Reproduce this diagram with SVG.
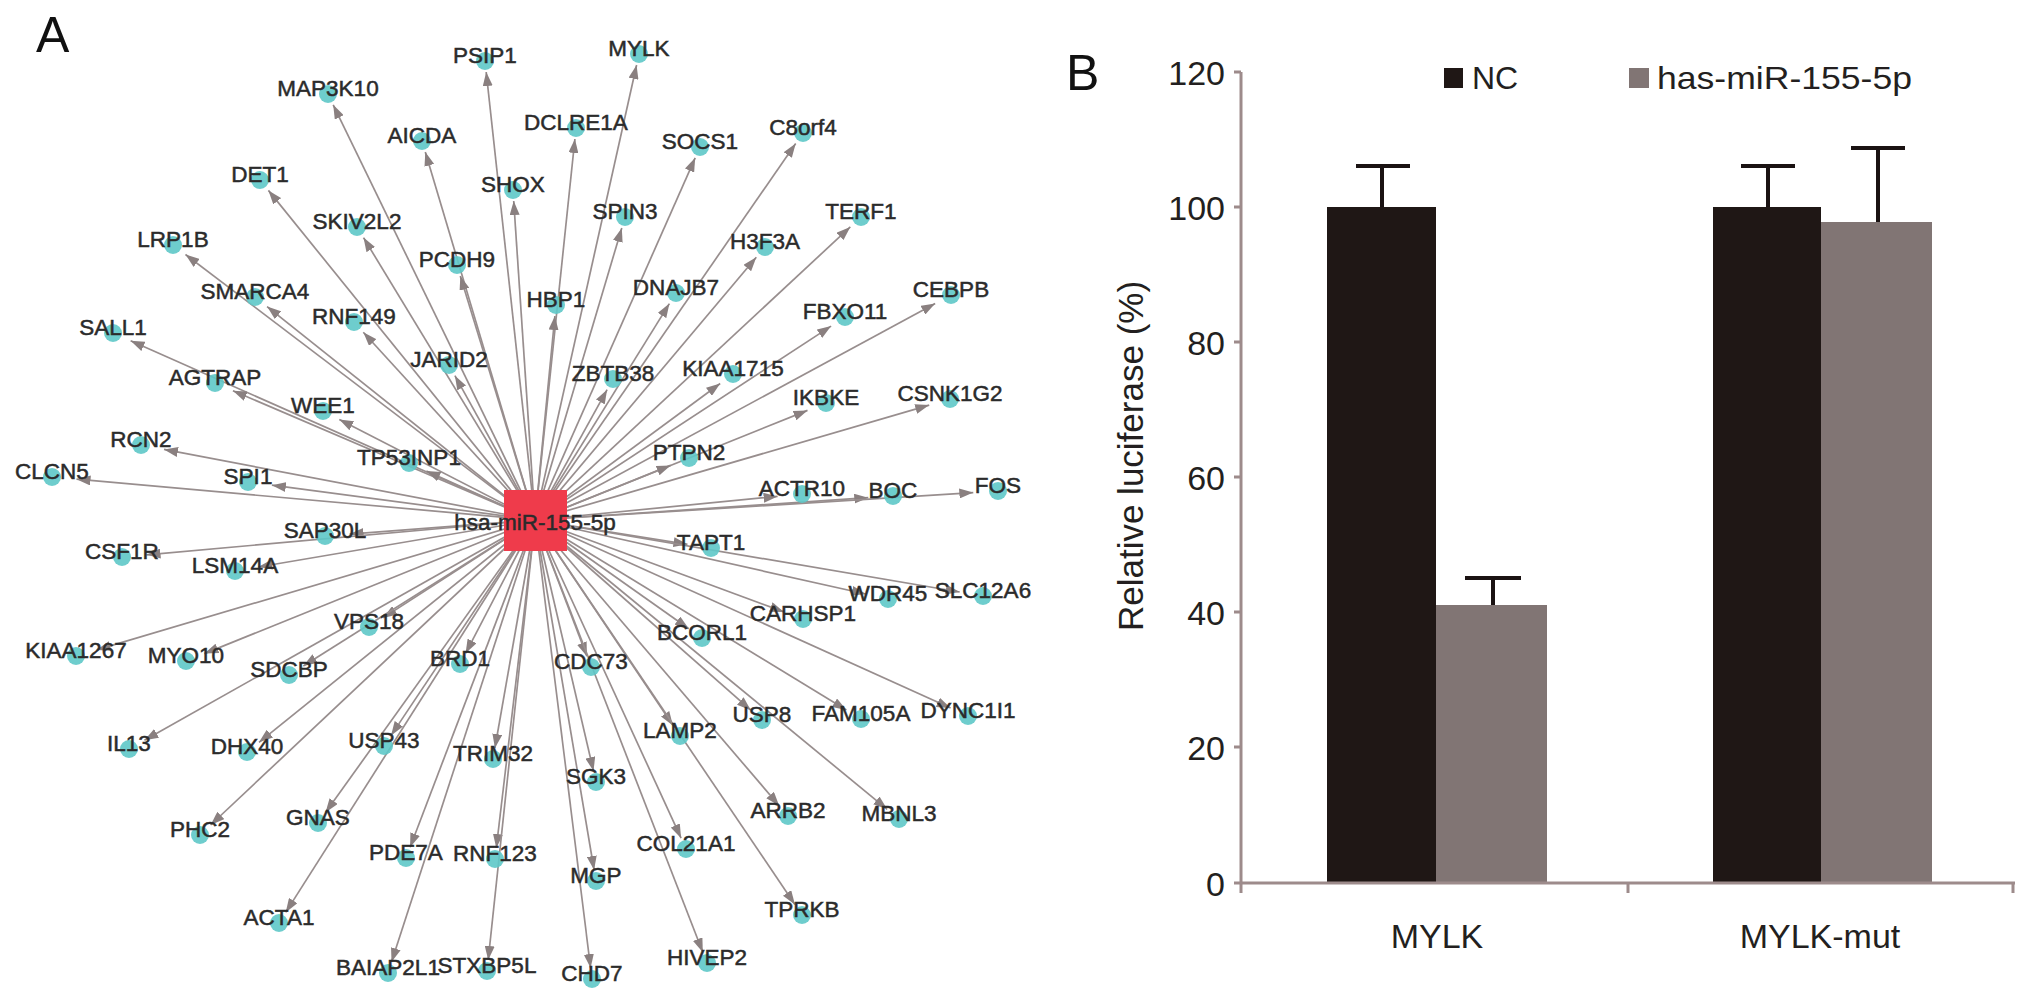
<svg xmlns="http://www.w3.org/2000/svg" width="2031" height="1002" viewBox="0 0 2031 1002">
<style>
.e{stroke:#988e8e;stroke-width:1.7;fill:none;marker-end:url(#ah)}
.d{fill:#5ec8c8;fill-opacity:0.9}
.l{font-family:"Liberation Sans",Arial,sans-serif;font-size:22.5px;fill:#2b2b2b;stroke:#2b2b2b;stroke-width:0.5;text-anchor:middle}
.pl{font-family:"Liberation Sans",Arial,sans-serif;font-size:50px;fill:#111}
.ax{stroke:#9d8b8b;stroke-width:3;fill:none}
.tk{font-family:"Liberation Sans",Arial,sans-serif;font-size:34px;fill:#231f20;text-anchor:end}
.lg{font-family:"Liberation Sans",Arial,sans-serif;font-size:32px;fill:#231f20}
.xl{font-family:"Liberation Sans",Arial,sans-serif;font-size:34px;fill:#231f20;text-anchor:middle}
.yt{font-family:"Liberation Sans",Arial,sans-serif;font-size:35px;fill:#231f20;text-anchor:middle}
.nc{fill:#1f1715}
.mi{fill:#817574}
.eb{stroke:#1a1212;stroke-width:4;fill:none}
</style>
<defs>
<marker id="ah" viewBox="0 0 14 10" refX="14" refY="5" markerWidth="14" markerHeight="10" markerUnits="userSpaceOnUse" orient="auto"><path d="M0,0 L14,5 L0,10 z" fill="#8a8080"/></marker>
</defs>
<rect width="2031" height="1002" fill="#fff"/>
<text class="pl" x="36" y="52">A</text>
<text class="pl" x="1066" y="90">B</text>
<g id="connectors">
<line class="e" x1="535" y1="520" x2="486.2" y2="72"/>
<line class="e" x1="535" y1="520" x2="636.6" y2="65"/>
<line class="e" x1="535" y1="520" x2="333.2" y2="104.8"/>
<line class="e" x1="535" y1="520" x2="574.9" y2="139"/>
<line class="e" x1="535" y1="520" x2="425.3" y2="151.9"/>
<line class="e" x1="535" y1="520" x2="695.2" y2="157.8"/>
<line class="e" x1="535" y1="520" x2="795.7" y2="143.5"/>
<line class="e" x1="535" y1="520" x2="513.7" y2="201"/>
<line class="e" x1="535" y1="520" x2="268.4" y2="190.4"/>
<line class="e" x1="535" y1="520" x2="363.5" y2="237.6"/>
<line class="e" x1="535" y1="520" x2="621.8" y2="227.9"/>
<line class="e" x1="535" y1="520" x2="850.3" y2="226.9"/>
<line class="e" x1="535" y1="520" x2="756.3" y2="257.3"/>
<line class="e" x1="535" y1="520" x2="185.5" y2="254.5"/>
<line class="e" x1="535" y1="520" x2="460.3" y2="275.9"/>
<line class="e" x1="535" y1="520" x2="669.4" y2="303.6"/>
<line class="e" x1="535" y1="520" x2="935.2" y2="303.5"/>
<line class="e" x1="535" y1="520" x2="267.1" y2="306.6"/>
<line class="e" x1="535" y1="520" x2="554.9" y2="316"/>
<line class="e" x1="535" y1="520" x2="363.3" y2="332.2"/>
<line class="e" x1="535" y1="520" x2="831.1" y2="326.1"/>
<line class="e" x1="535" y1="520" x2="130.6" y2="340.8"/>
<line class="e" x1="535" y1="520" x2="454.9" y2="375.7"/>
<line class="e" x1="535" y1="520" x2="232.9" y2="390.7"/>
<line class="e" x1="535" y1="520" x2="607.1" y2="389.7"/>
<line class="e" x1="535" y1="520" x2="720.2" y2="383.5"/>
<line class="e" x1="535" y1="520" x2="807.5" y2="410.4"/>
<line class="e" x1="535" y1="520" x2="929.2" y2="405.1"/>
<line class="e" x1="535" y1="520" x2="339.3" y2="419.4"/>
<line class="e" x1="535" y1="520" x2="164" y2="449.4"/>
<line class="e" x1="535" y1="520" x2="426.4" y2="470.9"/>
<line class="e" x1="535" y1="520" x2="670.6" y2="465.4"/>
<line class="e" x1="535" y1="520" x2="76.5" y2="479.2"/>
<line class="e" x1="535" y1="520" x2="271.9" y2="485.2"/>
<line class="e" x1="535" y1="520" x2="777.6" y2="496.4"/>
<line class="e" x1="535" y1="520" x2="868.3" y2="497.7"/>
<line class="e" x1="535" y1="520" x2="973.3" y2="492.6"/>
<line class="e" x1="535" y1="520" x2="349.6" y2="534.1"/>
<line class="e" x1="535" y1="520" x2="687.5" y2="544.3"/>
<line class="e" x1="535" y1="520" x2="146.5" y2="554.8"/>
<line class="e" x1="535" y1="520" x2="258.3" y2="567"/>
<line class="e" x1="535" y1="520" x2="865.7" y2="594"/>
<line class="e" x1="535" y1="520" x2="959.7" y2="592"/>
<line class="e" x1="535" y1="520" x2="783.9" y2="611.9"/>
<line class="e" x1="535" y1="520" x2="383.1" y2="617.9"/>
<line class="e" x1="535" y1="520" x2="96.7" y2="649.9"/>
<line class="e" x1="535" y1="520" x2="204.4" y2="653.6"/>
<line class="e" x1="535" y1="520" x2="688.8" y2="628.7"/>
<line class="e" x1="535" y1="520" x2="303.3" y2="666"/>
<line class="e" x1="535" y1="520" x2="465.6" y2="653.3"/>
<line class="e" x1="535" y1="520" x2="586.9" y2="656.2"/>
<line class="e" x1="535" y1="520" x2="950.6" y2="708.1"/>
<line class="e" x1="535" y1="520" x2="750.8" y2="710.2"/>
<line class="e" x1="535" y1="520" x2="846.4" y2="710.1"/>
<line class="e" x1="535" y1="520" x2="672.9" y2="725.4"/>
<line class="e" x1="535" y1="520" x2="144.4" y2="740.3"/>
<line class="e" x1="535" y1="520" x2="259" y2="742.3"/>
<line class="e" x1="535" y1="520" x2="391.1" y2="735.4"/>
<line class="e" x1="535" y1="520" x2="494.9" y2="748"/>
<line class="e" x1="535" y1="520" x2="593.5" y2="771.1"/>
<line class="e" x1="535" y1="520" x2="779.2" y2="805.7"/>
<line class="e" x1="535" y1="520" x2="887.2" y2="809.3"/>
<line class="e" x1="535" y1="520" x2="210.6" y2="825"/>
<line class="e" x1="535" y1="520" x2="325.5" y2="812.5"/>
<line class="e" x1="535" y1="520" x2="410.1" y2="847.2"/>
<line class="e" x1="535" y1="520" x2="496.3" y2="848"/>
<line class="e" x1="535" y1="520" x2="681.1" y2="838.2"/>
<line class="e" x1="535" y1="520" x2="594.1" y2="870"/>
<line class="e" x1="535" y1="520" x2="794.9" y2="904.5"/>
<line class="e" x1="535" y1="520" x2="285.7" y2="912.4"/>
<line class="e" x1="535" y1="520" x2="391.5" y2="962.1"/>
<line class="e" x1="535" y1="520" x2="488.2" y2="960"/>
<line class="e" x1="535" y1="520" x2="702.8" y2="952.2"/>
<line class="e" x1="535" y1="520" x2="590.6" y2="968"/>
</g>
<g id="n-PSIP1"><circle class="d" cx="485" cy="61" r="9"/><text class="l" x="485" y="63">PSIP1</text></g>
<g id="n-MYLK"><circle class="d" cx="639" cy="54" r="9"/><text class="l" x="639" y="56">MYLK</text></g>
<g id="n-MAP3K10"><circle class="d" cx="328" cy="94" r="9"/><text class="l" x="328" y="96">MAP3K10</text></g>
<g id="n-DCLRE1A"><circle class="d" cx="576" cy="128" r="9"/><text class="l" x="576" y="130">DCLRE1A</text></g>
<g id="n-AICDA"><circle class="d" cx="422" cy="141" r="9"/><text class="l" x="422" y="143">AICDA</text></g>
<g id="n-SOCS1"><circle class="d" cx="700" cy="147" r="9"/><text class="l" x="700" y="149">SOCS1</text></g>
<g id="n-C8orf4"><circle class="d" cx="803" cy="133" r="9"/><text class="l" x="803" y="135">C8orf4</text></g>
<g id="n-SHOX"><circle class="d" cx="513" cy="190" r="9"/><text class="l" x="513" y="192">SHOX</text></g>
<g id="n-DET1"><circle class="d" cx="260" cy="180" r="9"/><text class="l" x="260" y="182">DET1</text></g>
<g id="n-SKIV2L2"><circle class="d" cx="357" cy="227" r="9"/><text class="l" x="357" y="229">SKIV2L2</text></g>
<g id="n-SPIN3"><circle class="d" cx="625" cy="217" r="9"/><text class="l" x="625" y="219">SPIN3</text></g>
<g id="n-TERF1"><circle class="d" cx="861" cy="217" r="9"/><text class="l" x="861" y="219">TERF1</text></g>
<g id="n-H3F3A"><circle class="d" cx="765" cy="247" r="9"/><text class="l" x="765" y="249">H3F3A</text></g>
<g id="n-LRP1B"><circle class="d" cx="173" cy="245" r="9"/><text class="l" x="173" y="247">LRP1B</text></g>
<g id="n-PCDH9"><circle class="d" cx="457" cy="265" r="9"/><text class="l" x="457" y="267">PCDH9</text></g>
<g id="n-DNAJB7"><circle class="d" cx="676" cy="293" r="9"/><text class="l" x="676" y="295">DNAJB7</text></g>
<g id="n-CEBPB"><circle class="d" cx="951" cy="295" r="9"/><text class="l" x="951" y="297">CEBPB</text></g>
<g id="n-SMARCA4"><circle class="d" cx="255" cy="297" r="9"/><text class="l" x="255" y="299">SMARCA4</text></g>
<g id="n-HBP1"><circle class="d" cx="556" cy="305" r="9"/><text class="l" x="556" y="307">HBP1</text></g>
<g id="n-RNF149"><circle class="d" cx="354" cy="322" r="9"/><text class="l" x="354" y="324">RNF149</text></g>
<g id="n-FBXO11"><circle class="d" cx="845" cy="317" r="9"/><text class="l" x="845" y="319">FBXO11</text></g>
<g id="n-SALL1"><circle class="d" cx="113" cy="333" r="9"/><text class="l" x="113" y="335">SALL1</text></g>
<g id="n-JARID2"><circle class="d" cx="449" cy="365" r="9"/><text class="l" x="449" y="367">JARID2</text></g>
<g id="n-AGTRAP"><circle class="d" cx="215" cy="383" r="9"/><text class="l" x="215" y="385">AGTRAP</text></g>
<g id="n-ZBTB38"><circle class="d" cx="613" cy="379" r="9"/><text class="l" x="613" y="381">ZBTB38</text></g>
<g id="n-KIAA1715"><circle class="d" cx="733" cy="374" r="9"/><text class="l" x="733" y="376">KIAA1715</text></g>
<g id="n-IKBKE"><circle class="d" cx="826" cy="403" r="9"/><text class="l" x="826" y="405">IKBKE</text></g>
<g id="n-CSNK1G2"><circle class="d" cx="950" cy="399" r="9"/><text class="l" x="950" y="401">CSNK1G2</text></g>
<g id="n-WEE1"><circle class="d" cx="323" cy="411" r="9"/><text class="l" x="323" y="413">WEE1</text></g>
<g id="n-RCN2"><circle class="d" cx="141" cy="445" r="9"/><text class="l" x="141" y="447">RCN2</text></g>
<g id="n-TP53INP1"><circle class="d" cx="409" cy="463" r="9"/><text class="l" x="409" y="465">TP53INP1</text></g>
<g id="n-PTPN2"><circle class="d" cx="689" cy="458" r="9"/><text class="l" x="689" y="460">PTPN2</text></g>
<g id="n-CLCN5"><circle class="d" cx="52" cy="477" r="9"/><text class="l" x="52" y="479">CLCN5</text></g>
<g id="n-SPI1"><circle class="d" cx="248" cy="482" r="9"/><text class="l" x="248" y="484">SPI1</text></g>
<g id="n-ACTR10"><circle class="d" cx="802" cy="494" r="9"/><text class="l" x="802" y="496">ACTR10</text></g>
<g id="n-BOC"><circle class="d" cx="893" cy="496" r="9"/><text class="l" x="893" y="498">BOC</text></g>
<g id="n-FOS"><circle class="d" cx="998" cy="491" r="9"/><text class="l" x="998" y="493">FOS</text></g>
<g id="n-SAP30L"><circle class="d" cx="325" cy="536" r="9"/><text class="l" x="325" y="538">SAP30L</text></g>
<g id="n-TAPT1"><circle class="d" cx="711" cy="548" r="9"/><text class="l" x="711" y="550">TAPT1</text></g>
<g id="n-CSF1R"><circle class="d" cx="122" cy="557" r="9"/><text class="l" x="122" y="559">CSF1R</text></g>
<g id="n-LSM14A"><circle class="d" cx="235" cy="571" r="9"/><text class="l" x="235" y="573">LSM14A</text></g>
<g id="n-WDR45"><circle class="d" cx="888" cy="599" r="9"/><text class="l" x="888" y="601">WDR45</text></g>
<g id="n-SLC12A6"><circle class="d" cx="983" cy="596" r="9"/><text class="l" x="983" y="598">SLC12A6</text></g>
<g id="n-CARHSP1"><circle class="d" cx="803" cy="619" r="9"/><text class="l" x="803" y="621">CARHSP1</text></g>
<g id="n-VPS18"><circle class="d" cx="369" cy="627" r="9"/><text class="l" x="369" y="629">VPS18</text></g>
<g id="n-KIAA1267"><circle class="d" cx="76" cy="656" r="9"/><text class="l" x="76" y="658">KIAA1267</text></g>
<g id="n-MYO10"><circle class="d" cx="186" cy="661" r="9"/><text class="l" x="186" y="663">MYO10</text></g>
<g id="n-BCORL1"><circle class="d" cx="702" cy="638" r="9"/><text class="l" x="702" y="640">BCORL1</text></g>
<g id="n-SDCBP"><circle class="d" cx="289" cy="675" r="9"/><text class="l" x="289" y="677">SDCBP</text></g>
<g id="n-BRD1"><circle class="d" cx="460" cy="664" r="9"/><text class="l" x="460" y="666">BRD1</text></g>
<g id="n-CDC73"><circle class="d" cx="591" cy="667" r="9"/><text class="l" x="591" y="669">CDC73</text></g>
<g id="n-DYNC1I1"><circle class="d" cx="968" cy="716" r="9"/><text class="l" x="968" y="718">DYNC1I1</text></g>
<g id="n-USP8"><circle class="d" cx="762" cy="720" r="9"/><text class="l" x="762" y="722">USP8</text></g>
<g id="n-FAM105A"><circle class="d" cx="861" cy="719" r="9"/><text class="l" x="861" y="721">FAM105A</text></g>
<g id="n-LAMP2"><circle class="d" cx="680" cy="736" r="9"/><text class="l" x="680" y="738">LAMP2</text></g>
<g id="n-IL13"><circle class="d" cx="129" cy="749" r="9"/><text class="l" x="129" y="751">IL13</text></g>
<g id="n-DHX40"><circle class="d" cx="247" cy="752" r="9"/><text class="l" x="247" y="754">DHX40</text></g>
<g id="n-USP43"><circle class="d" cx="384" cy="746" r="9"/><text class="l" x="384" y="748">USP43</text></g>
<g id="n-TRIM32"><circle class="d" cx="493" cy="759" r="9"/><text class="l" x="493" y="761">TRIM32</text></g>
<g id="n-SGK3"><circle class="d" cx="596" cy="782" r="9"/><text class="l" x="596" y="784">SGK3</text></g>
<g id="n-ARRB2"><circle class="d" cx="788" cy="816" r="9"/><text class="l" x="788" y="818">ARRB2</text></g>
<g id="n-MBNL3"><circle class="d" cx="899" cy="819" r="9"/><text class="l" x="899" y="821">MBNL3</text></g>
<g id="n-PHC2"><circle class="d" cx="200" cy="835" r="9"/><text class="l" x="200" y="837">PHC2</text></g>
<g id="n-GNAS"><circle class="d" cx="318" cy="823" r="9"/><text class="l" x="318" y="825">GNAS</text></g>
<g id="n-PDE7A"><circle class="d" cx="406" cy="858" r="9"/><text class="l" x="406" y="860">PDE7A</text></g>
<g id="n-RNF123"><circle class="d" cx="495" cy="859" r="9"/><text class="l" x="495" y="861">RNF123</text></g>
<g id="n-COL21A1"><circle class="d" cx="686" cy="849" r="9"/><text class="l" x="686" y="851">COL21A1</text></g>
<g id="n-MGP"><circle class="d" cx="596" cy="881" r="9"/><text class="l" x="596" y="883">MGP</text></g>
<g id="n-TPRKB"><circle class="d" cx="802" cy="915" r="9"/><text class="l" x="802" y="917">TPRKB</text></g>
<g id="n-ACTA1"><circle class="d" cx="279" cy="923" r="9"/><text class="l" x="279" y="925">ACTA1</text></g>
<g id="n-BAIAP2L1"><circle class="d" cx="388" cy="973" r="9"/><text class="l" x="388" y="975">BAIAP2L1</text></g>
<g id="n-STXBP5L"><circle class="d" cx="487" cy="971" r="9"/><text class="l" x="487" y="973">STXBP5L</text></g>
<g id="n-HIVEP2"><circle class="d" cx="707" cy="963" r="9"/><text class="l" x="707" y="965">HIVEP2</text></g>
<g id="n-CHD7"><circle class="d" cx="592" cy="979" r="9"/><text class="l" x="592" y="981">CHD7</text></g>
<g id="n-hsa-miR-155-5p"><rect x="504" y="490" width="63" height="61" fill="#ef3b4b"/><text class="l" x="535" y="530">hsa-miR-155-5p</text></g>
<g id="chart">
<rect class="nc" x="1327" y="207" width="109" height="676"/>
<rect class="mi" x="1436" y="605" width="111" height="278"/>
<rect class="nc" x="1713" y="207" width="108" height="676"/>
<rect class="mi" x="1821" y="222" width="111" height="661"/>
<path class="eb" d="M1382,207V166M1356,166H1410M1493,605V578M1465,578H1521M1768,207V166M1741,166H1795M1878,222V148M1851,148H1905"/>
<path class="ax" d="M1241,72V893M1241,883H2015M1234,72H1241M1234,207H1241M1234,342H1241M1234,477H1241M1234,612H1241M1234,747H1241M1234,883H1241M1628,883V893M2013,883V893"/>
<text class="tk" x="1225" y="883" dy="13">0</text>
<text class="tk" x="1225" y="747" dy="13">20</text>
<text class="tk" x="1225" y="612" dy="13">40</text>
<text class="tk" x="1225" y="477" dy="13">60</text>
<text class="tk" x="1225" y="342" dy="13">80</text>
<text class="tk" x="1225" y="207" dy="13">100</text>
<text class="tk" x="1225" y="72" dy="13">120</text>
<text class="xl" x="1437" y="948">MYLK</text>
<text class="xl" x="1820" y="948">MYLK-mut</text>
<text class="yt" transform="translate(1143,456) rotate(-90)">Relative luciferase (%)</text>
<rect class="nc" x="1444" y="68" width="19" height="20"/>
<text class="lg" x="1472" y="89">NC</text>
<rect class="mi" x="1629" y="68" width="20" height="20"/>
<text class="lg" x="1657" y="89" textLength="255" lengthAdjust="spacingAndGlyphs">has-miR-155-5p</text>
</g>
</svg>
